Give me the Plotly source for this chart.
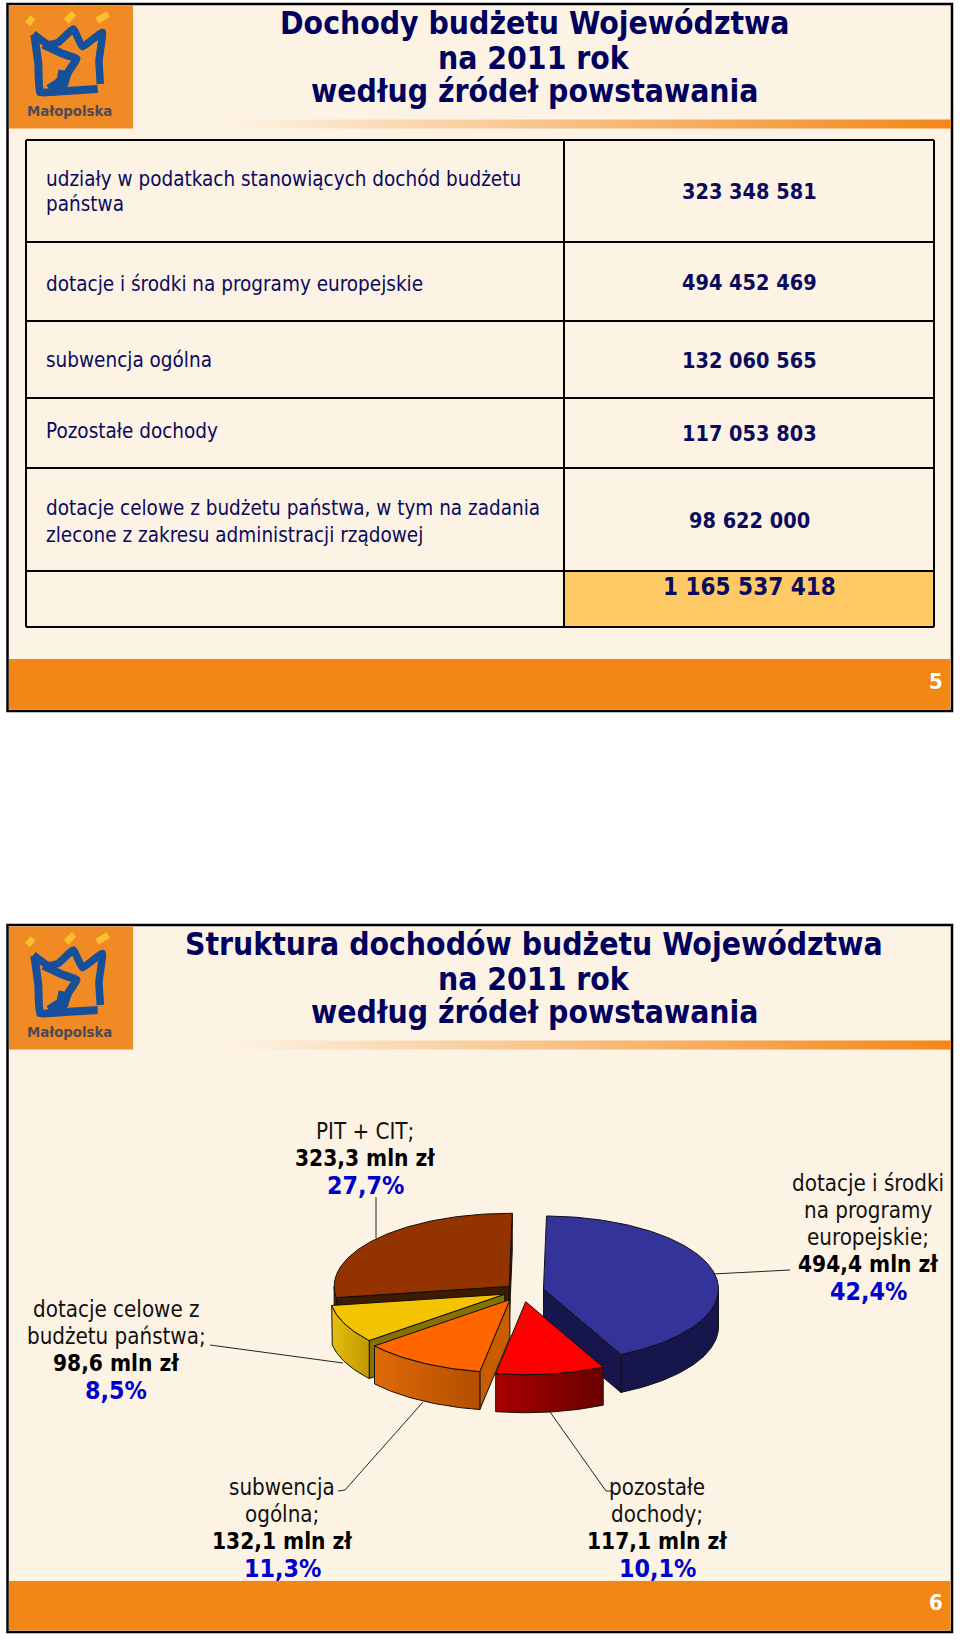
import math
import plotly.graph_objects as go

# ---------- data ----------
title_slide1 = ["Dochody budżetu Województwa", "na 2011 rok", "według źródeł powstawania"]
title_slide2 = ["Struktura dochodów budżetu Województwa", "na 2011 rok", "według źródeł powstawania"]
row_labels = [
    ["udziały w podatkach stanowiących dochód budżetu", "państwa"],
    ["dotacje i środki na programy europejskie"],
    ["subwencja ogólna"],
    ["Pozostałe dochody"],
    ["dotacje celowe z budżetu państwa, w tym na zadania", "zlecone z zakresu administracji rządowej"],
]
row_values = ["323 348 581", "494 452 469", "132 060 565", "117 053 803", "98 622 000"]
total_value = "1 165 537 418"

pie_names = ["dotacje i środki", "pozostałe dochody", "subwencja ogólna", "dotacje celowe", "PIT + CIT"]
pie_values = [494.4, 117.1, 132.1, 98.6, 323.3]
pie_explode = [22, 26, 24, 19, 17]
pie_tops = ["#333399", "#FF0000", "#FF6600", "#F5C400", "#933300"]
pie_walls_a = ["#16164D", "#A80000", "#E06A08", "#E8BE10", "#5C2400"]
pie_walls_b = ["#16164D", "#6B0000", "#B24F00", "#BE9800", "#5C2400"]
pie_radial = ["#16164D", "#6B0000", "#C85C00", "#857000", "#3D1A00"]

pie_labels = [
    (365, ["PIT + CIT;"], "323,3 mln zł", "27,7%", 1131),
    (868, ["dotacje i środki", "na programy", "europejskie;"], "494,4 mln zł", "42,4%", 1183),
    (116, ["dotacje celowe z", "budżetu państwa;"], "98,6 mln zł", "8,5%", 1309),
    (282, ["subwencja", "ogólna;"], "132,1 mln zł", "11,3%", 1487),
    (657, ["pozostałe", "dochody;"], "117,1 mln zł", "10,1%", 1487),
]

# ---------- style ----------
BODY = "DejaVu Sans Condensed, DejaVu Sans, sans-serif"
CREAM = "#FDF3E5"
ORANGE = "#F28716"
NAVY = "#0B0B5E"
W, H = 960, 1641

fig = go.Figure()
shapes, notes = [], []


def rect(x0, y0, x1, y1, fill=None, line=None, lw=2):
    shapes.append(dict(type="rect", xref="x", yref="y", x0=x0, y0=y0, x1=x1, y1=y1, layer="below",
                       fillcolor=fill or "rgba(0,0,0,0)",
                       line=dict(color=line or "rgba(0,0,0,0)", width=lw if line else 0)))


def text(x, y, s, size, color=NAVY, bold=False, anchor="center", family=BODY):
    notes.append(dict(x=x, y=y, xref="x", yref="y", text=f"<b>{s}</b>" if bold else s, showarrow=False,
                      xanchor=anchor, yanchor="middle", font=dict(size=size, color=color, family=family)))


def poly(xs, ys, fill=None, line="#111111", lw=1, gradient=None):
    kw = dict(x=xs, y=ys, mode="lines", hoverinfo="skip", showlegend=False,
              line=dict(color=line, width=lw))
    if gradient:
        kw.update(fill="toself", fillgradient=dict(type="horizontal", colorscale=[[0, gradient[0]], [1, gradient[1]]]))
    elif fill:
        kw.update(fill="toself", fillcolor=fill)
    fig.add_trace(go.Scatter(**kw))


def stroke(pts, ox, oy, color, width):
    fig.add_trace(go.Scatter(x=[ox + p[0] / 3 for p in pts], y=[oy + p[1] / 3 for p in pts], mode="lines",
                             hoverinfo="skip", showlegend=False,
                             line=dict(color=color, width=width, shape="spline", smoothing=0.3)))


def slide(top, bottom, band_top, number, title):
    rect(7.5, top, 952, bottom, fill=CREAM, line="#000000", lw=2.5)
    rect(9, band_top, 950.5, bottom - 1.5, fill=ORANGE)
    rect(9, top + 1.5, 133, top + 124.5, fill="#F08A24")
    # fading strip below the title
    poly([225, 951, 951, 225, 225], [top + 115.5, top + 115.5, top + 124.5, top + 124.5, top + 115.5],
         line="rgba(0,0,0,0)", lw=0, gradient=(CREAM, ORANGE))
    # logo
    ox, oy = 5, top
    for p in ([(68, 60), (84, 40)], [(183, 52), (207, 28)], [(276, 50), (310, 30)]):
        stroke(p, ox, oy, "#FBC02D", 6.5)
    blue = "#17509A"
    stroke([(88, 92), (100, 180), (105, 265), (170, 262), (278, 255)], ox, oy, blue, 8)
    stroke([(85, 90), (130, 122), (160, 115), (205, 75), (232, 128), (292, 85), (282, 170), (286, 240)], ox, oy, blue, 7.5)
    stroke([(115, 122), (170, 148), (215, 165), (192, 200), (180, 225)], ox, oy, blue, 8)
    stroke([(180, 200), (172, 235), (135, 260)], ox, oy, blue, 13)
    text(ox + 192 / 3, oy + 318 / 3, "Małopolska", 14.8, color="#4B4B55", bold=True, family="DejaVu Sans Condensed")
    for y, s in zip([19, 53.5, 87], title):
        text(534, top + y, s, 31.6, color="#00005E", bold=True)
    text(936, bottom - 30, str(number), 22, color="#FFFFFF", bold=True)


# ---------- slide 1: table ----------
slide(4, 711, 659, 5, title_slide1)
row_edges = [140, 242, 321, 398, 468, 571, 627]
TL, TM, TR = 26, 564, 934
rect(TM, row_edges[5], TR, row_edges[6], fill="#FFC966")
for y in row_edges:
    shapes.append(dict(type="line", xref="x", yref="y", x0=TL, x1=TR, y0=y, y1=y, layer="below",
                       line=dict(color="#000000", width=2)))
for x in (TL, TM, TR):
    shapes.append(dict(type="line", xref="x", yref="y", x0=x, x1=x, y0=row_edges[0], y1=row_edges[-1], layer="below",
                       line=dict(color="#000000", width=2)))
label_ys = [[179, 204], [284], [360], [431], [508, 535]]
value_ys = [191.5, 282, 360, 433.5, 520]
for lines, ys, v, vy in zip(row_labels, label_ys, row_values, value_ys):
    for s, y in zip(lines, ys):
        text(43.5, y, s, 20.5, anchor="left")
    text(749, vy, v, 21.5, bold=True)
text(749, 587, total_value, 24, bold=True)

# ---------- slide 2: pie ----------
slide(925, 1632, 1581, 6, title_slide2)

CX, CY, RX, RY, DEPTH = 522, 1291, 175, 73, 38
START = 1.0
total = sum(pie_values)


def rim(a, cx, cy):
    t = math.radians(a)
    return cx + RX * math.sin(t), cy - RY * math.cos(t)


def arc(a, b, cx, cy):
    n = max(2, int(abs(b - a)) + 1)
    pts = [rim(a + (b - a) * i / (n - 1), cx, cy) for i in range(n)]
    return [p[0] for p in pts], [p[1] for p in pts]


spans, ang = [], START
for v in pie_values:
    d = v / total * 360
    spans.append((ang, ang + d))
    ang += d

for i in [4, 0, 3, 2, 1]:
    a, b = spans[i]
    mid = math.radians((a + b) / 2)
    e = pie_explode[i]
    cx = CX + e * math.sin(mid)
    cy = CY - e * math.cos(mid) * RY / RX
    # radial walls facing the viewer
    for edge, visible in ((a, math.sin(math.radians(a)) < 0), (b, math.sin(math.radians(b)) > 0)):
        if visible:
            px, py = rim(edge, cx, cy)
            poly([cx, px, px, cx, cx], [cy, py, py + DEPTH, cy + DEPTH, cy], fill=pie_radial[i])
    # outer wall
    lo, hi = max(a, 90), min(b, 270)
    if hi > lo:
        xs, ys = arc(lo, hi, cx, cy)
        poly(xs + xs[::-1] + xs[:1], ys + [y + DEPTH for y in ys[::-1]] + ys[:1],
             line="#111111", gradient=(pie_walls_a[i], pie_walls_b[i]))
    # top face
    xs, ys = arc(a, b, cx, cy)
    poly([cx] + xs + [cx], [cy] + ys + [cy], fill=pie_tops[i])

leaders = [
    ([376, 376], [1197, 1238]),
    ([713, 760, 790], [1274, 1272, 1270]),
    ([343, 210], [1363, 1345]),
    ([423, 345, 338], [1402, 1490, 1491]),
    ([550, 606, 612], [1412, 1491, 1491]),
]
for xs, ys in leaders:
    poly(xs, ys, line="#222222", lw=1)

for x, lines, amount, pct, y0 in pie_labels:
    y = y0
    for s in lines:
        text(x, y, s, 22.2, color="#111111")
        y += 27
    text(x, y, amount, 22.5, color="#000000", bold=True)
    y += 27
    text(x, y, pct, 24.8, color="#0000CC", bold=True)

fig.update_layout(
    width=W, height=H, margin=dict(l=0, r=0, t=0, b=0), paper_bgcolor="#FFFFFF", plot_bgcolor="#FFFFFF",
    xaxis=dict(range=[0, W], visible=False, fixedrange=True),
    yaxis=dict(range=[H, 0], visible=False, fixedrange=True),
    shapes=shapes, annotations=notes, showlegend=False,
)
fig.write_html("out.html", config={"displayModeBar": False},
               post_script="document.body.style.margin='0';")
